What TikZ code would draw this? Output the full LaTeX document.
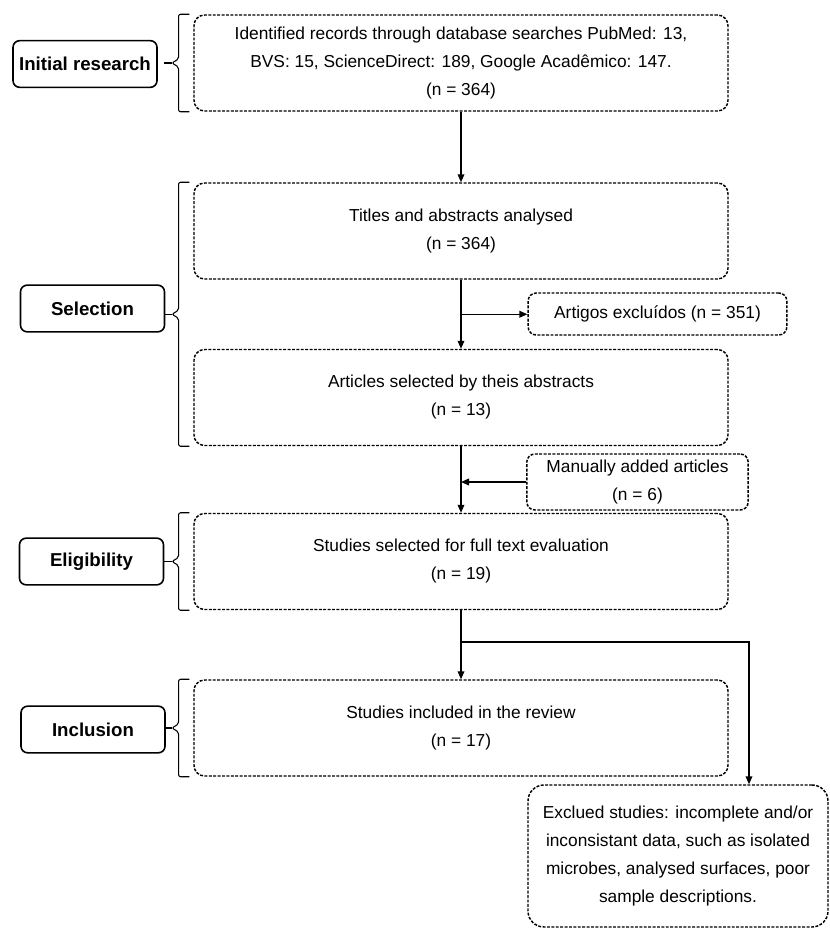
\documentclass[tikz,border=0pt]{standalone}
\usepackage{fontspec}
\setmainfont{Liberation Sans}
\usetikzlibrary{arrows.meta,calc}

\begin{document}
\begin{tikzpicture}[x=0.75pt,y=-0.75pt,
  >={Triangle[length=6pt,width=5pt]},
  stage/.style={draw, line width=1.2pt, rounded corners=5pt, minimum width=108pt, minimum height=35pt, inner sep=2pt, font=\fontsize{14}{17}\selectfont\bfseries},
  flowbox/.style={draw, line width=1.1pt, dash pattern=on 2.2pt off 1.1pt, rounded corners=8pt, align=center, inner sep=2pt, font=\fontsize{13}{21}\selectfont},
  mainbox/.style={flowbox, minimum width=400.5pt, minimum height=72pt},
  bracket/.style={line width=0.8pt, rounded corners=1.5pt},
  link/.style={line width=1.1pt}]
\useasboundingbox (0,0) rectangle (829,928);

% stages
\node[stage] (init) at (85,64) {Initial research};
\node[stage] (sel) at (92.5,308.5) {Selection};
\node[stage] (elig) at (91.5,561.5) {Eligibility};
\node[stage] (incl) at (93,729.5) {Inclusion};

% main flow
\node[mainbox] (rec) at (461,63) {Identified records through database searches PubMed: 13,\\BVS: 15, ScienceDirect: 189, Google Acadêmico: 147.\\(n = 364)};
\node[mainbox] (titles) at (461,231) {Titles and abstracts analysed\\(n = 364)};
\node[mainbox] (abstr) at (461,397.5) {Articles selected by theis abstracts\\(n = 13)};
\node[mainbox] (full) at (461,561.5) {Studies selected for full text evaluation\\(n = 19)};
\node[mainbox] (review) at (461,728) {Studies included in the review\\(n = 17)};

% side boxes
\node[flowbox, rounded corners=6pt, minimum width=194pt, minimum height=31.5pt] (excl1) at (657.5,314) {Artigos excluídos (n = 351)};
\node[flowbox, rounded corners=6pt, minimum width=166pt, minimum height=42pt] (manual) at (637.5,482) {Manually added articles\\(n = 6)};
\node[flowbox, rounded corners=12pt, minimum width=225pt, minimum height=106.5pt] (excl2) at (678,856) {Exclued studies: incomplete and/or\\inconsistant data, such as isolated\\microbes, analysed surfaces, poor\\sample descriptions.};

% brackets
\foreach \ta/\tb in {rec/rec, titles/abstr, full/full, review/review} {
  \coordinate (mid) at ($(\ta.north west)!0.5!(\tb.south west)$);
  \draw[bracket] ([xshift=-3pt]\ta.north west) -- ([xshift=-11pt]\ta.north west) -- ([xshift=-11pt,yshift=3pt]mid) -- ([xshift=-16pt]mid) -- ([xshift=-11pt,yshift=-3pt]mid) -- ([xshift=-11pt]\tb.south west) -- ([xshift=-3pt]\tb.south west);
  \draw[bracket] ([xshift=-16pt]mid) -- ([xshift=-22pt]mid);
}

% arrows
\draw[link,->] (rec) -- (titles);
\draw[link,->] (titles) -- (abstr);
\coordinate (fork) at ($(titles.south)!0.5!(abstr.north)$);
\draw[link,->] (fork) -- (fork -| excl1.west);
\draw[link,->] (abstr) -- (full);
\draw[link,->] (manual.west) -- (manual.west -| abstr);
\draw[link,->] (full) -- (review);
\coordinate (turn) at (749,642);
\draw[link,->] (turn -| full) -- (turn) -- (turn |- excl2.north);
\end{tikzpicture}
\end{document}
